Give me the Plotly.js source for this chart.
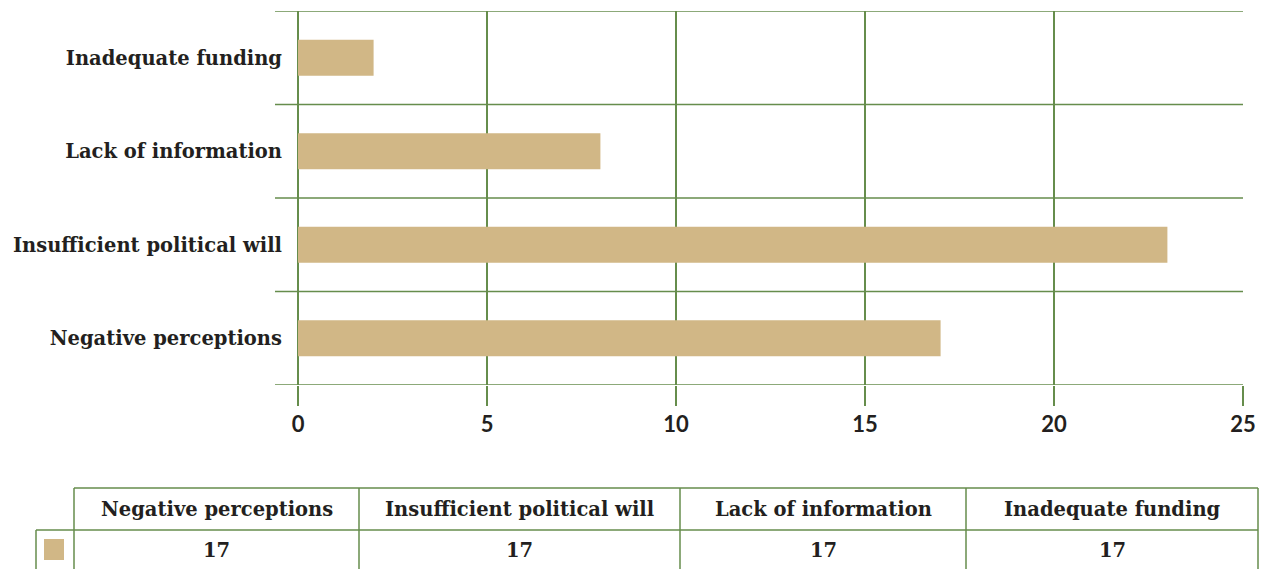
<!DOCTYPE html>
<html>
<head>
<meta charset="utf-8">
<script src="https://cdn.plot.ly/plotly-3.0.1.min.js"></script>
<style>html,body{margin:0;padding:0;background:#fff;}#chart{width:1270px;height:569px;}</style>
</head>
<body>
<div id="chart"></div>
<script>
const categories = ['Negative perceptions', 'Insufficient political will', 'Lack of information', 'Inadequate funding'];
const values = [17, 23, 8, 2];
const tableHeaders = ['Negative perceptions', 'Insufficient political will', 'Lack of information', 'Inadequate funding'];
const tableValues = [17, 17, 17, 17];
const xTicks = [0, 5, 10, 15, 20, 25];

const GREEN = '#668d4c';
const BAR = '#d1b786';
const TXT = '#231f20';
const SERIF = '"DejaVu Serif", "Liberation Serif", serif';
const SANS = 'Lato, "Open Sans", sans-serif';

// plot area geometry in px (for paper conversion of table layout)
const W = 1270, H = 569;
const mL = 298, mR = 27, mT = 11, mB = 184;
const pw = W - mL - mR, ph = H - mT - mB;
const px = v => (v - mL) / pw;
const py = v => (H - mB - v) / ph;

const shapes = [];
const annotations = [];

// category boundary lines (extend left of axis)
for (let i = 0; i <= categories.length; i++) {
  shapes.push({type: 'line', xref: 'paper', yref: 'y', x0: px(275), x1: 1, y0: i - 0.5, y1: i - 0.5,
    line: {color: GREEN, width: 1.5}});
}

// table
const colEdges = [74, 359, 680, 966, 1258];
const hTop = 488, hMid = 530, hBot = 575;
shapes.push({type: 'line', xref: 'paper', yref: 'paper', x0: px(74), x1: px(1258), y0: py(hTop), y1: py(hTop), line: {color: GREEN, width: 1.5}});
shapes.push({type: 'line', xref: 'paper', yref: 'paper', x0: px(36), x1: px(1258), y0: py(hMid), y1: py(hMid), line: {color: GREEN, width: 1.5}});
shapes.push({type: 'line', xref: 'paper', yref: 'paper', x0: px(36), x1: px(36), y0: py(hMid), y1: py(hBot), line: {color: GREEN, width: 1.5}});
colEdges.forEach(e => {
  shapes.push({type: 'line', xref: 'paper', yref: 'paper', x0: px(e), x1: px(e), y0: py(hTop), y1: py(hBot), line: {color: GREEN, width: 1.5}});
});
// legend swatch
shapes.push({type: 'rect', xref: 'paper', yref: 'paper', x0: px(44), x1: px(64), y0: py(560), y1: py(539), fillcolor: BAR, line: {width: 0}});

tableHeaders.forEach((h, i) => {
  const cx = (colEdges[i] + colEdges[i + 1]) / 2;
  annotations.push({xref: 'paper', yref: 'paper', x: px(cx), y: py(509), text: h, showarrow: false,
    xanchor: 'center', yanchor: 'middle', font: {family: SERIF, size: 19.5, color: TXT, weight: 'bold'}});
  annotations.push({xref: 'paper', yref: 'paper', x: px(cx), y: py(550), text: String(tableValues[i]), showarrow: false,
    xanchor: 'center', yanchor: 'middle', font: {family: SERIF, size: 19.5, color: TXT, weight: 'bold'}});
});

const trace = {
  type: 'bar', orientation: 'h', y: categories, x: values,
  marker: {color: BAR}, hoverinfo: 'skip'
};

const layout = {
  width: W, height: H,
  margin: {l: mL, r: mR, t: mT, b: mB, pad: 0},
  paper_bgcolor: '#fff', plot_bgcolor: '#fff',
  showlegend: false,
  bargap: 0.615,
  xaxis: {
    range: [0, 25], tickvals: xTicks, ticktext: xTicks.map(String),
    showgrid: true, gridcolor: GREEN, gridwidth: 1.5,
    zeroline: true, zerolinecolor: GREEN, zerolinewidth: 1.5,
    ticks: 'outside', ticklen: 20, tickwidth: 1.5, tickcolor: GREEN,
    tickfont: {family: SANS, size: 22, color: TXT, weight: 'bold'},
    showline: false, fixedrange: true
  },
  yaxis: {
    type: 'category', categoryorder: 'array', categoryarray: categories,
    range: [-0.5, 3.5], showgrid: false, zeroline: false, ticks: '',
    ticklabelstandoff: 15,
    tickfont: {family: SERIF, size: 19.5, color: TXT, weight: 'bold'},
    showline: false, fixedrange: true
  },
  shapes: shapes,
  annotations: annotations
};

Plotly.newPlot('chart', [trace], layout, {displayModeBar: false, staticPlot: true});
</script>
</body>
</html>
